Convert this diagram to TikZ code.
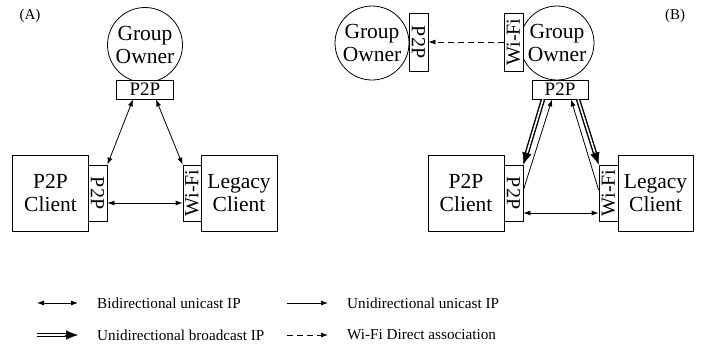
\documentclass[tikz,border=0pt]{standalone}
\usepackage{fontspec}
\setmainfont{Liberation Serif}
\usetikzlibrary{arrows.meta,calc}
\begin{document}
\begin{tikzpicture}[x=1bp,y=-1bp,
  gown/.style={draw, circle, line width=0.8bp, minimum size=75bp, inner sep=0pt, align=center, font=\fontsize{21.5bp}{23bp}\selectfont},
  bigbox/.style={draw, fill=white, line width=0.8bp, minimum width=76bp, minimum height=76bp, inner sep=0pt, align=center, font=\fontsize{21.5bp}{23bp}\selectfont},
  vbox/.style={draw, fill=white, line width=0.8bp, minimum width=19bp, minimum height=56bp, inner sep=0pt, font=\fontsize{20bp}{22bp}\selectfont},
  hbox/.style={draw, fill=white, line width=0.8bp, minimum width=57bp, minimum height=19bp, inner sep=0pt, font=\fontsize{19bp}{20bp}\selectfont},
  bi/.style={line width=0.8bp, {Latex[length=7bp,width=5bp]}-{Latex[length=7bp,width=5bp]}},
  uni/.style={line width=0.8bp, -{Latex[length=7bp,width=5bp]}},
  dsh/.style={uni, dash pattern=on 6bp off 4bp},
  bcast/.style={line width=1.4bp, double distance=1.6bp, double=white, shorten >=10bp},
  bhead/.style={line width=0.5bp, -{Latex[length=12bp,width=9.5bp]}},
  legtxt/.style={anchor=west, inner sep=0pt, font=\fontsize{15.2bp}{17bp}\selectfont},
  plabel/.style={inner sep=0pt, font=\fontsize{15bp}{17bp}\selectfont}
]
\useasboundingbox (0,0) rectangle (711,354);

% ---------- Panel A ----------
\node[plabel] (labA) at (30,16) {(A)};
\node[gown] (goA) at (145,45) {Group\\Owner};
\node[hbox] (p2pA) at (145,89.5) {P2P};
\node[bigbox] (clA) at (50.5,193) {P2P\\Client};
\node[vbox] (cpA) at (97.5,193) {\rotatebox{-90}{P2P}};
\node[vbox, minimum width=18bp] (wfA) at (192,193) {\rotatebox{90}{Wi-Fi}};
\node[bigbox] (lgA) at (239,193) {Legacy\\Client};

\draw[bi] ([xshift=-12bp]p2pA.south) -- (cpA.north east);
\draw[bi] ([xshift=11bp]p2pA.south) -- (wfA.north west);
\draw[bi] ([yshift=-10bp]cpA.east) -- ([yshift=-10bp]wfA.west);

% ---------- Panel B ----------
\node[plabel] (labB) at (675,16) {(B)};
\node[gown, minimum size=74bp] (goB1) at (372,43) {Group\\Owner};
\node[vbox, minimum height=58bp] (p2pB1) at (418.5,42) {\rotatebox{-90}{P2P}};
\node[gown, minimum size=74bp] (goB2) at (557,43) {Group\\Owner};
\node[vbox, minimum height=58bp] (wfB) at (513.5,42) {\rotatebox{90}{Wi-Fi}};
\node[hbox, minimum width=56bp] (p2pB) at (560,89.5) {P2P};
\node[bigbox] (clB) at (466,193) {P2P\\Client};
\node[vbox] (cpB) at (513.5,193) {\rotatebox{-90}{P2P}};
\node[vbox] (wfB2) at (608.5,193) {\rotatebox{90}{Wi-Fi}};
\node[bigbox, minimum width=75bp] (lgB) at (655.5,193) {Legacy\\Client};

\draw[dsh] (wfB.west) -- (p2pB1.east);

\coordinate (bl) at ([xshift=-17bp]p2pB.south);
\coordinate (br) at ([xshift=18bp]p2pB.south);
\draw[bcast] (bl) -- (cpB.north east);
\draw[bhead] ($(cpB.north east)!13bp!(bl)$) -- (cpB.north east);
\draw[bcast] (br) -- (wfB2.north west);
\draw[bhead] ($(wfB2.north west)!13bp!(br)$) -- (wfB2.north west);

\draw[uni] ([yshift=3bp]cpB.east) -- ([xshift=-8bp]p2pB.south);
\draw[uni] ([yshift=3bp]wfB2.west) -- ([xshift=11bp]p2pB.south);
\draw[bi] ([yshift=-20bp]cpB.east) -- ([yshift=-20bp]wfB2.west);

% ---------- Legend ----------
\coordinate (l1a) at (37,303);
\coordinate (l1b) at (78,303);
\draw[bi] (l1a) -- (l1b);
\node[legtxt] (t1) at (97,303) {Bidirectional unicast IP};

\coordinate (l2a) at (37,335);
\coordinate (l2b) at (78,335);
\draw[bcast] (l2a) -- (l2b);
\draw[bhead] ($(l2b)!13bp!(l2a)$) -- (l2b);
\node[legtxt] (t2) at (97,335) {Unidirectional broadcast IP};

\coordinate (l3a) at (287,303);
\coordinate (l3b) at (328,303);
\draw[uni] (l3a) -- (l3b);
\node[legtxt] (t3) at (347,303) {Unidirectional unicast IP};

\coordinate (l4a) at (287,335);
\coordinate (l4b) at (328,335);
\draw[dsh] (l4a) -- (l4b);
\node[legtxt] (t4) at (347,335) {Wi-Fi Direct association};
\end{tikzpicture}
\end{document}
